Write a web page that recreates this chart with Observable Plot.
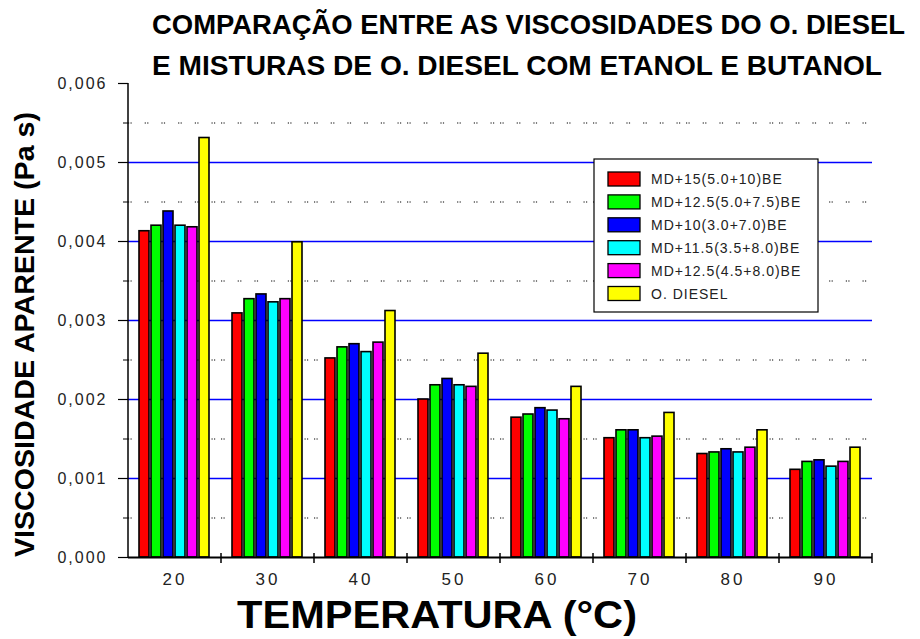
<!DOCTYPE html>
<html><head><meta charset="utf-8">
<script src="https://cdn.jsdelivr.net/npm/d3@7"></script>
<script src="https://cdn.jsdelivr.net/npm/@observablehq/plot@0.6"></script>
<style>
body{margin:0;background:#fff;}
#chart svg{display:block;}
g[aria-label="y-axis tick label"] text{letter-spacing:2px;}
g[aria-label="fx-axis tick label"] text{letter-spacing:3px;}
</style></head><body><div id="chart"></div>
<script>
// ---- data ----
const temperatures = [20, 30, 40, 50, 60, 70, 80, 90];
const series = ["MD+15(5.0+10)BE", "MD+12.5(5.0+7.5)BE", "MD+10(3.0+7.0)BE", "MD+11.5(3.5+8.0)BE", "MD+12.5(4.5+8.0)BE", "O. DIESEL"];
const colors = ["#ff0000", "#00ff00", "#0000ff", "#00ffff", "#ff00ff", "#ffff00"];
const md15_50_10 = [0.00413, 0.00309, 0.00252, 0.00200, 0.00177, 0.00151, 0.00131, 0.00111];
const md125_50_75 = [0.00420, 0.00327, 0.00266, 0.00218, 0.00181, 0.00161, 0.00133, 0.00121];
const md10_30_70 = [0.00438, 0.00333, 0.00270, 0.00226, 0.00189, 0.00161, 0.00137, 0.00123];
const md115_35_80 = [0.00420, 0.00323, 0.00260, 0.00218, 0.00186, 0.00151, 0.00133, 0.00115];
const md125_45_80 = [0.00418, 0.00327, 0.00272, 0.00216, 0.00175, 0.00153, 0.00139, 0.00121];
const oDiesel = [0.00531, 0.00399, 0.00312, 0.00258, 0.00216, 0.00183, 0.00161, 0.00139];
const yMajorTicks = [0, 0.001, 0.002, 0.003, 0.004, 0.005, 0.006];
const yGridBlue = [0.001, 0.002, 0.003, 0.004, 0.005];
const yMinorTicks = [0.0005, 0.0015, 0.0025, 0.0035, 0.0045, 0.0055];
const titleLines = ["COMPARAÇÃO ENTRE AS VISCOSIDADES DO O. DIESEL", "E MISTURAS DE O. DIESEL COM ETANOL E BUTANOL"];
const yTitle = "VISCOSIDADE APARENTE (Pa s)";
const xTitle = "TEMPERATURA (°C)";

const allSeries = [md15_50_10, md125_50_75, md10_30_70, md115_35_80, md125_45_80, oDiesel];
const rows = [];
series.forEach((s, i) => temperatures.forEach((t, j) => rows.push({series: s, temp: t, value: allSeries[i][j]})));

const fmt = d => d3.format(".3f")(d).replace(".", ",");
const font = "'Liberation Sans', Arial, sans-serif";

const plot = Plot.plot({
  width: 920, height: 639,
  marginLeft: 125, marginRight: 45, marginTop: 83, marginBottom: 82,
  style: {fontFamily: font, background: "white", color: "#000", overflow: "visible"},
  fx: {domain: temperatures, padding: 0, label: null},
  x: {domain: series, paddingInner: 0.16, paddingOuter: 0.93, axis: null},
  y: {domain: [0, 0.006]},
  color: {domain: series, range: colors},
  marks: [
    Plot.gridY(yMinorTicks, {stroke: "#000", strokeOpacity: 1, strokeWidth: 1, strokeDasharray: "1.2,1.3,1.2,13"}),
    Plot.gridY(yGridBlue, {stroke: "#0000ff", strokeOpacity: 1, strokeWidth: 1.5}),
    Plot.barY(rows, {fx: "temp", x: "series", y: "value", fill: "series", stroke: "#000", strokeWidth: 1.6, strokeOpacity: 1}),
    Plot.ruleY([0], {stroke: "#000", strokeWidth: 2}),
    Plot.axisY(yMajorTicks, {tickSize: 10, tickPadding: 11, tickFormat: fmt, fontSize: 16, label: null, stroke: "#000", strokeWidth: 1.2, fill: "#222"}),
    Plot.axisY(yMinorTicks, {tickSize: 5, tickFormat: () => "", label: null, stroke: "#000"}),
    Plot.axisFx({anchor: "bottom", tickSize: 0, tickPadding: 15, fontSize: 17, label: null, fill: "#222"})
  ]
});

document.getElementById("chart").appendChild(plot);

// ---- decorations derived from the library scales ----
const svg = d3.select(plot);
const fx = plot.scale("fx");
const y = plot.scale("y");
const color = plot.scale("color");
const x0 = fx.apply(temperatures[0]);
const xEnd = fx.apply(temperatures[temperatures.length - 1]) + fx.bandwidth;
const y0 = y.apply(0), yTop = y.apply(0.006);

// y axis line
svg.append("line").attr("x1", x0).attr("x2", x0).attr("y1", yTop).attr("y2", y0 + 1)
  .attr("stroke", "#000").attr("stroke-width", 1.5);
// boundary ticks on x axis
const bounds = temperatures.map(t => fx.apply(t)).concat([xEnd]);
svg.append("g").selectAll("line").data(bounds.slice(1)).join("line")
  .attr("x1", d => d).attr("x2", d => d).attr("y1", y0 - 4).attr("y2", y0 + 6)
  .attr("stroke", "#000").attr("stroke-width", 1.5);

// legend
const lg = svg.append("g").attr("transform", "translate(594,159)").attr("text-anchor", "start");
lg.append("rect").attr("x", 0).attr("y", 0).attr("width", 224).attr("height", 153)
  .attr("fill", "#fff").attr("stroke", "#000").attr("stroke-width", 1.2);
series.forEach((s, i) => {
  const g = lg.append("g").attr("transform", `translate(14,${13 + i * 22.9})`);
  g.append("rect").attr("width", 32).attr("height", 14).attr("fill", color.apply(s))
    .attr("stroke", "#000").attr("stroke-width", 1.3);
  g.append("text").attr("x", 43).attr("y", 12).text(s).attr("text-anchor", "start")
    .attr("font-family", font).attr("font-size", 14).attr("letter-spacing", "1px").attr("fill", "#222");
});

// titles
titleLines.forEach((t, i) => {
  svg.append("text").attr("x", 152).attr("y", 34 + i * 41).text(t).attr("text-anchor", "start")
    .attr("font-family", font).attr("font-weight", "bold").attr("font-size", 27)
    .attr("textLength", i === 0 ? 753 : 730).attr("lengthAdjust", "spacingAndGlyphs").attr("fill", "#000");
});
svg.append("text").attr("transform", "translate(34,334.5) rotate(-90)").attr("text-anchor", "middle")
  .text(yTitle).attr("font-family", font).attr("font-weight", "bold").attr("font-size", 28)
  .attr("textLength", 445).attr("lengthAdjust", "spacingAndGlyphs").attr("fill", "#000");
svg.append("text").attr("x", 437).attr("y", 628).attr("text-anchor", "middle")
  .text(xTitle).attr("font-family", font).attr("font-weight", "bold").attr("font-size", 38)
  .attr("textLength", 400).attr("lengthAdjust", "spacingAndGlyphs").attr("fill", "#000");
</script></body></html>
